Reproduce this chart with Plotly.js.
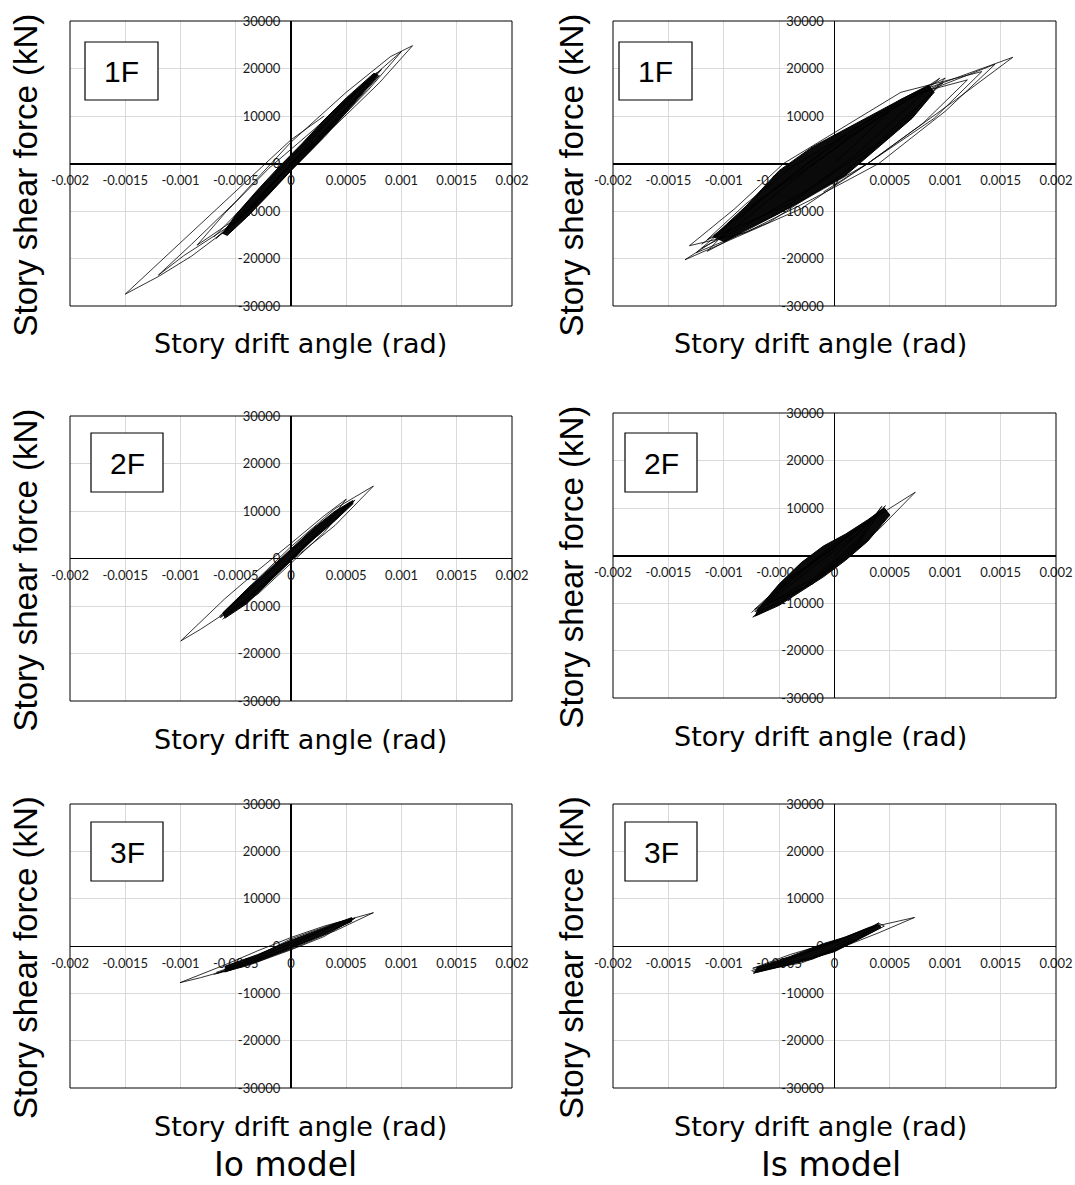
<!DOCTYPE html>
<html>
<head>
<meta charset="utf-8">
<script src="https://cdn.plot.ly/plotly-3.0.1.min.js"></script>
<style>html,body{margin:0;padding:0;background:#fff;}#chart{width:1075px;height:1185px;}</style>
</head>
<body>
<div id="chart"></div>
<script>
// ---------- tick labels ----------
const xTickVals = [-0.002, -0.0015, -0.001, -0.0005, 0, 0.0005, 0.001, 0.0015, 0.002];
const xTickText = ['-0.002', '-0.0015', '-0.001', '-0.0005', '0', '0.0005', '0.001', '0.0015', '0.002'];
const yTickVals = [-30000, -20000, -10000, 0, 10000, 20000, 30000];
const yTickText = ['-30000', '-20000', '-10000', '0', '10000', '20000', '30000'];

// ---------- panel labels ----------
const storyLabels = ['1F', '1F', '2F', '2F', '3F', '3F'];
const modelLabels = ['Io model', 'Is model'];
const yTitle = 'Story shear force (kN)';
const xTitle = 'Story drift angle (rad)';

// ---------- Io model 1F ----------
const io1F_loopX = [0, 0.0003, 0.00078, 0.0005, 0.0001, -0.0003, -0.00085, -0.0006, -0.0002, 0.0002, 0.0007, 0.001, 0.0007, 0.0003, 0, -0.0005, -0.00097, -0.0012, -0.0009, -0.0005, 0, 0.0005, 0.0009, 0.0011, 0.0008, 0.0004, 0, -0.0005, -0.0009, -0.0012, -0.0015, -0.001, -0.0005, 0, 0.0003];
const io1F_loopY = [0, 8000, 19200, 11500, 1000, -8500, -17200, -10500, -1000, 7000, 17500, 23600, 15500, 6000, -500, -12300, -19400, -23500, -17000, -8000, 4500, 15000, 22500, 24800, 17000, 8000, 0, -12500, -19500, -23800, -27500, -16700, -5800, 5000, 10000];
const io1F_innerX = [-0.0007, -0.0003, 0.0001, 0.0005, 0.00082, 0.0004, 0, -0.0004, -0.00068, -0.0003, 0.0002, 0.0006, 0.0008, 0.0003, -0.0002, -0.0006];
const io1F_innerY = [-15500, -6000, 3500, 13000, 19800, 9000, 0, -10500, -15800, -7000, 4500, 14000, 18500, 5500, -6000, -14000];
const io1F_coreX = [-0.00062, -0.0005, -0.0003, -0.0001, 0.0001, 0.0003, 0.0005, 0.00075, 0.00079, 0.0006, 0.0004, 0.0002, 0, -0.0002, -0.0004, -0.00058];
const io1F_coreY = [-14800, -10800, -5500, -500, 4200, 9200, 13800, 19000, 18600, 13500, 8200, 3200, -1500, -6500, -11300, -15200];

// ---------- Is model 1F ----------
const is1F_loopX = [0, 0.0005, 0.00095, 0.0006, 0.0002, -0.0004, -0.00115, -0.0008, -0.0004, 0.0002, 0.0007, 0.0012, 0.0008, 0.0003, -0.0003, -0.00115, -0.0009, -0.0005, 0, 0.0007, 0.00145, 0.001, 0.0004, -0.0002, -0.0008, -0.00131, -0.0009, -0.00046, 0, 0.0006, 0.00133, 0.0009, 0.0003, -0.0003, -0.00135, -0.0009, -0.0004, 0.0001, 0.0008, 0.00161, 0.0011, 0.0006, 0.0003, -0.0001];
const is1F_loopY = [0, 11000, 17950, 10500, 2000, -8500, -16050, -8500, -1000, 7500, 14500, 17600, 8500, 0, -8000, -18500, -12500, -4500, 4000, 14000, 20900, 11000, 0, -7500, -14500, -17310, -9500, 0, 6500, 15000, 19350, 9500, 0, -9500, -20260, -13500, -4000, 5000, 15500, 22360, 13500, 5000, 0, -6000];
const is1F_innerX = [-0.0012, -0.0006, 0, 0.0006, 0.001, 0.0006, 0, -0.0006, -0.00125, -0.0007, 0, 0.0005, 0.00098, 0.0004, -0.0002, -0.0008, -0.0012];
const is1F_innerY = [-17000, -6500, 4500, 13500, 18000, 8000, -3500, -12500, -18800, -8000, 3000, 11500, 17000, 4500, -5000, -13000, -17800];
const is1F_coreX = [-0.0011, -0.0008, -0.0005, -0.0002, 0, 0.0003, 0.0006, 0.00085, 0.0009, 0.0007, 0.0004, 0.0001, -0.0002, -0.0005, -0.0008, -0.001];
const is1F_coreY = [-15500, -9000, -1500, 3500, 6000, 9800, 13500, 16500, 15000, 9500, 3500, -2500, -6500, -10500, -14000, -16500];

// ---------- Io model 2F ----------
const io2F_loopX = [0, 0.0003, 0.000535, 0.0003, 0, -0.0003, -0.00064, -0.0004, 0, 0.0004, 0.000746, 0.0004, 0, -0.0004, -0.000818, -0.000998, -0.0006, -0.0003, 0, 0.0003, 0.0005, 0.0003, 0];
const io2F_loopY = [0, 7000, 11950, 5500, -1000, -7500, -12440, -6500, 2500, 10500, 15250, 7000, -500, -8500, -14900, -17360, -8500, -2500, 3200, 9000, 12500, 6500, 0];
const io2F_innerX = [-0.00065, -0.0003, 0, 0.0003, 0.00058, 0.0003, 0, -0.0003, -0.00062];
const io2F_innerY = [-12200, -5000, 1500, 7500, 12300, 6000, 0, -6500, -12800];
const io2F_coreX = [-0.00062, -0.0004, -0.0002, 0, 0.0002, 0.0004, 0.00056, 0.00056, 0.0004, 0.0002, 0, -0.0002, -0.0004, -0.0006];
const io2F_coreY = [-11500, -6500, -2300, 2000, 6300, 10000, 12200, 11500, 8000, 4000, -600, -5000, -9500, -12600];

// ---------- Is model 2F ----------
const is2F_loopX = [0, 0.0003, 0.000428, 0.0002, -0.0002, -0.00064, -0.0004, 0, 0.0003, 0.000729, 0.0004, 0.0001, -0.0003, -0.000738, -0.0005, -0.0002, 0.0002, 0.000413, 0.0002, -0.0002, -0.000723, -0.0004, 0];
const is2F_loopY = [0, 6500, 10370, 3000, -5000, -10650, -5000, 2000, 7000, 13320, 5500, -500, -7000, -12970, -8000, -2500, 4500, 9460, 2000, -6000, -11350, -4500, 1500];
const is2F_innerX = [-0.00075, -0.0004, 0, 0.0003, 0.00046, 0.0002, -0.0002, -0.0005, -0.00072, -0.0003, 0.0001, 0.00043];
const is2F_innerY = [-12000, -5000, 2500, 7000, 10500, 2500, -5500, -10000, -11800, -3500, 3500, 9800];
const is2F_coreX = [-0.0007, -0.0005, -0.0003, -0.0001, 0.0001, 0.0003, 0.00045, 0.0005, 0.0003, 0.0001, -0.0001, -0.0003, -0.0005, -0.00072];
const is2F_coreY = [-11500, -6000, -1500, 2000, 4500, 7500, 10000, 8500, 3000, -1000, -4500, -7500, -10500, -12800];

// ---------- Io model 3F ----------
const io3F_loopX = [0, 0.0003, 0.000565, 0.0003, 0, -0.0004, -0.000668, -0.0003, 0, 0.0004, 0.000746, 0.0004, 0, -0.0005, -0.000818, -0.001005, -0.0006, -0.0003, 0, 0.0003, 0.0005];
const io3F_loopY = [0, 3500, 5700, 2300, -700, -3800, -5770, -2000, 1500, 4800, 7040, 3200, -300, -4600, -6690, -7750, -4000, -1000, 1800, 4200, 5500];
const io3F_innerX = [-0.00068, -0.0003, 0, 0.0003, 0.00058, 0.0003, 0, -0.0004, -0.0007];
const io3F_innerY = [-5600, -2500, 500, 3500, 5900, 2000, -800, -4200, -6000];
const io3F_coreX = [-0.0006, -0.0003, 0, 0.0003, 0.00055, 0.00055, 0.0003, 0, -0.0003, -0.0006];
const io3F_coreY = [-4300, -1800, 1200, 3800, 6000, 5200, 2500, -500, -3300, -5500];

// ---------- Is model 3F ----------
const is3F_loopX = [0, 0.0003, 0.000398, 0.0002, -0.0002, -0.000738, -0.0004, 0, 0.0003, 0.000723, 0.0004, 0, -0.0004, -0.000732, -0.0004, 0, 0.000383, 0.0002, -0.0002, -0.0006];
const is3F_loopY = [0, 3200, 4900, 1500, -2500, -4700, -1800, 1000, 3800, 6030, 2800, -900, -3900, -5750, -2500, 800, 4400, 1200, -2800, -4800];
const is3F_innerX = [-0.00075, -0.0004, 0, 0.0004, 0.00045, 0.0001, -0.0003, -0.00074];
const is3F_innerY = [-5200, -2800, 800, 4800, 4200, 0, -3600, -5400];
const is3F_coreX = [-0.0007, -0.0004, -0.0001, 0.0001, 0.0004, 0.00042, 0.0002, 0, -0.0003, -0.00073];
const is3F_coreY = [-4500, -2200, 500, 1900, 4600, 3900, 1200, -1200, -3300, -5700];

// ---------- layout helpers (pixel -> paper) ----------
const W = 1075, H = 1185;
const px = v => v / W;
const py = v => 1 - v / H;

const panels = [
  {loopX: io1F_loopX, loopY: io1F_loopY, innerX: io1F_innerX, innerY: io1F_innerY, coreX: io1F_coreX, coreY: io1F_coreY, x: [70, 512], y: [21, 306], zx: 2, zy: 2, box: [85, 42, 158, 100]},
  {loopX: is1F_loopX, loopY: is1F_loopY, innerX: is1F_innerX, innerY: is1F_innerY, coreX: is1F_coreX, coreY: is1F_coreY, x: [613, 1056], y: [21, 306], zx: 1, zy: 2, box: [619, 42, 692, 100]},
  {loopX: io2F_loopX, loopY: io2F_loopY, innerX: io2F_innerX, innerY: io2F_innerY, coreX: io2F_coreX, coreY: io2F_coreY, x: [70, 512], y: [416, 701], zx: 2, zy: 1, box: [91, 433, 163, 492]},
  {loopX: is2F_loopX, loopY: is2F_loopY, innerX: is2F_innerX, innerY: is2F_innerY, coreX: is2F_coreX, coreY: is2F_coreY, x: [613, 1056], y: [413, 698], zx: 1, zy: 2, box: [625, 433, 697, 492]},
  {loopX: io3F_loopX, loopY: io3F_loopY, innerX: io3F_innerX, innerY: io3F_innerY, coreX: io3F_coreX, coreY: io3F_coreY, x: [70, 512], y: [804, 1088], zx: 2, zy: 1, box: [91, 822, 163, 881]},
  {loopX: is3F_loopX, loopY: is3F_loopY, innerX: is3F_innerX, innerY: is3F_innerY, coreX: is3F_coreX, coreY: is3F_coreY, x: [613, 1056], y: [804, 1088], zx: 1, zy: 1, box: [625, 822, 697, 881]}
];

const tickFont = {family: 'Lato, "Liberation Sans", sans-serif', size: 13, color: '#1a1a1a'};
const data = [];
const layout = {
  width: W, height: H,
  margin: {l: 0, r: 0, t: 0, b: 0},
  paper_bgcolor: '#fff', plot_bgcolor: '#fff',
  showlegend: false,
  shapes: [], annotations: []
};

panels.forEach((p, i) => {
  const n = i + 1;
  const xa = n === 1 ? 'x' : 'x' + n;
  const ya = n === 1 ? 'y' : 'y' + n;
  const xk = n === 1 ? 'xaxis' : 'xaxis' + n;
  const yk = n === 1 ? 'yaxis' : 'yaxis' + n;
  const xd = [px(p.x[0]), px(p.x[1])];
  const yd = [py(p.y[1]), py(p.y[0])];

  data.push({
    x: p.coreX, y: p.coreY, xaxis: xa, yaxis: ya, type: 'scatter', mode: 'lines',
    fill: 'toself', fillcolor: '#0a0a0a', line: {color: '#000', width: 1}, hoverinfo: 'skip'
  });
  data.push({
    x: p.innerX, y: p.innerY, xaxis: xa, yaxis: ya, type: 'scatter', mode: 'lines',
    line: {color: '#000', width: 0.8}, hoverinfo: 'skip'
  });
  data.push({
    x: p.loopX, y: p.loopY, xaxis: xa, yaxis: ya, type: 'scatter', mode: 'lines',
    line: {color: '#000', width: 0.8}, hoverinfo: 'skip'
  });

  layout[xk] = {
    domain: xd, range: [-0.002, 0.002], anchor: 'free', position: (yd[0] + yd[1]) / 2,
    tickmode: 'array', tickvals: xTickVals, ticktext: xTickText, tickfont: tickFont,
    ticks: 'outside', ticklen: 5, tickcolor: 'rgba(0,0,0,0)',
    showgrid: true, gridcolor: '#d9d9d9', gridwidth: 1,
    zeroline: true, zerolinecolor: '#000', zerolinewidth: p.zx,
    showline: false, fixedrange: true, layer: 'below traces'
  };
  layout[yk] = {
    domain: yd, range: [-30000, 30000], anchor: 'free', position: (xd[0] + xd[1]) / 2,
    tickmode: 'array', tickvals: yTickVals, ticktext: yTickText, tickfont: tickFont,
    ticks: 'outside', ticklen: 8, tickcolor: 'rgba(0,0,0,0)',
    showgrid: true, gridcolor: '#d9d9d9', gridwidth: 1,
    zeroline: true, zerolinecolor: '#000', zerolinewidth: p.zy,
    showline: false, fixedrange: true, layer: 'below traces'
  };

  // plot-area border
  layout.shapes.push({type: 'rect', xref: xa + ' domain', yref: ya + ' domain', x0: 0, x1: 1, y0: 0, y1: 1,
    line: {color: '#000', width: 1}, layer: 'above'});
  // story label box
  layout.shapes.push({type: 'rect', xref: 'paper', yref: 'paper',
    x0: px(p.box[0]), x1: px(p.box[2]), y0: py(p.box[3]), y1: py(p.box[1]),
    fillcolor: '#fff', line: {color: '#000', width: 1.2}, layer: 'above'});
  layout.annotations.push({xref: 'paper', yref: 'paper', x: px((p.box[0] + p.box[2]) / 2), y: py((p.box[1] + p.box[3]) / 2 + 1),
    text: storyLabels[i], showarrow: false, xanchor: 'center', yanchor: 'middle',
    font: {family: '"Liberation Sans", Arial, sans-serif', size: 30, color: '#000'}});

  // axis titles
  const left = (i % 2 === 0);
  const rowMid = (p.y[0] + p.y[1]) / 2;
  layout.annotations.push({xref: 'paper', yref: 'paper', x: px(left ? 25 : 571), y: py(rowMid + 12),
    text: yTitle, textangle: -90, showarrow: false, xanchor: 'center', yanchor: 'middle',
    font: {family: '"Liberation Sans", Arial, sans-serif', size: 33, color: '#000'}});
  layout.annotations.push({xref: 'paper', yref: 'paper', x: px(left ? 300 : 820), y: py(p.y[1] + 38),
    text: xTitle, showarrow: false, xanchor: 'center', yanchor: 'middle',
    font: {family: '"DejaVu Sans", sans-serif', size: 27, color: '#000'}});
});

layout.annotations.push({xref: 'paper', yref: 'paper', x: px(285), y: py(1164), text: modelLabels[0], showarrow: false,
  xanchor: 'center', yanchor: 'middle', font: {family: '"DejaVu Sans", sans-serif', size: 33, color: '#000'}});
layout.annotations.push({xref: 'paper', yref: 'paper', x: px(831), y: py(1164), text: modelLabels[1], showarrow: false,
  xanchor: 'center', yanchor: 'middle', font: {family: '"DejaVu Sans", sans-serif', size: 33, color: '#000'}});

Plotly.newPlot('chart', data, layout, {staticPlot: true, displayModeBar: false});
</script>
</body>
</html>
